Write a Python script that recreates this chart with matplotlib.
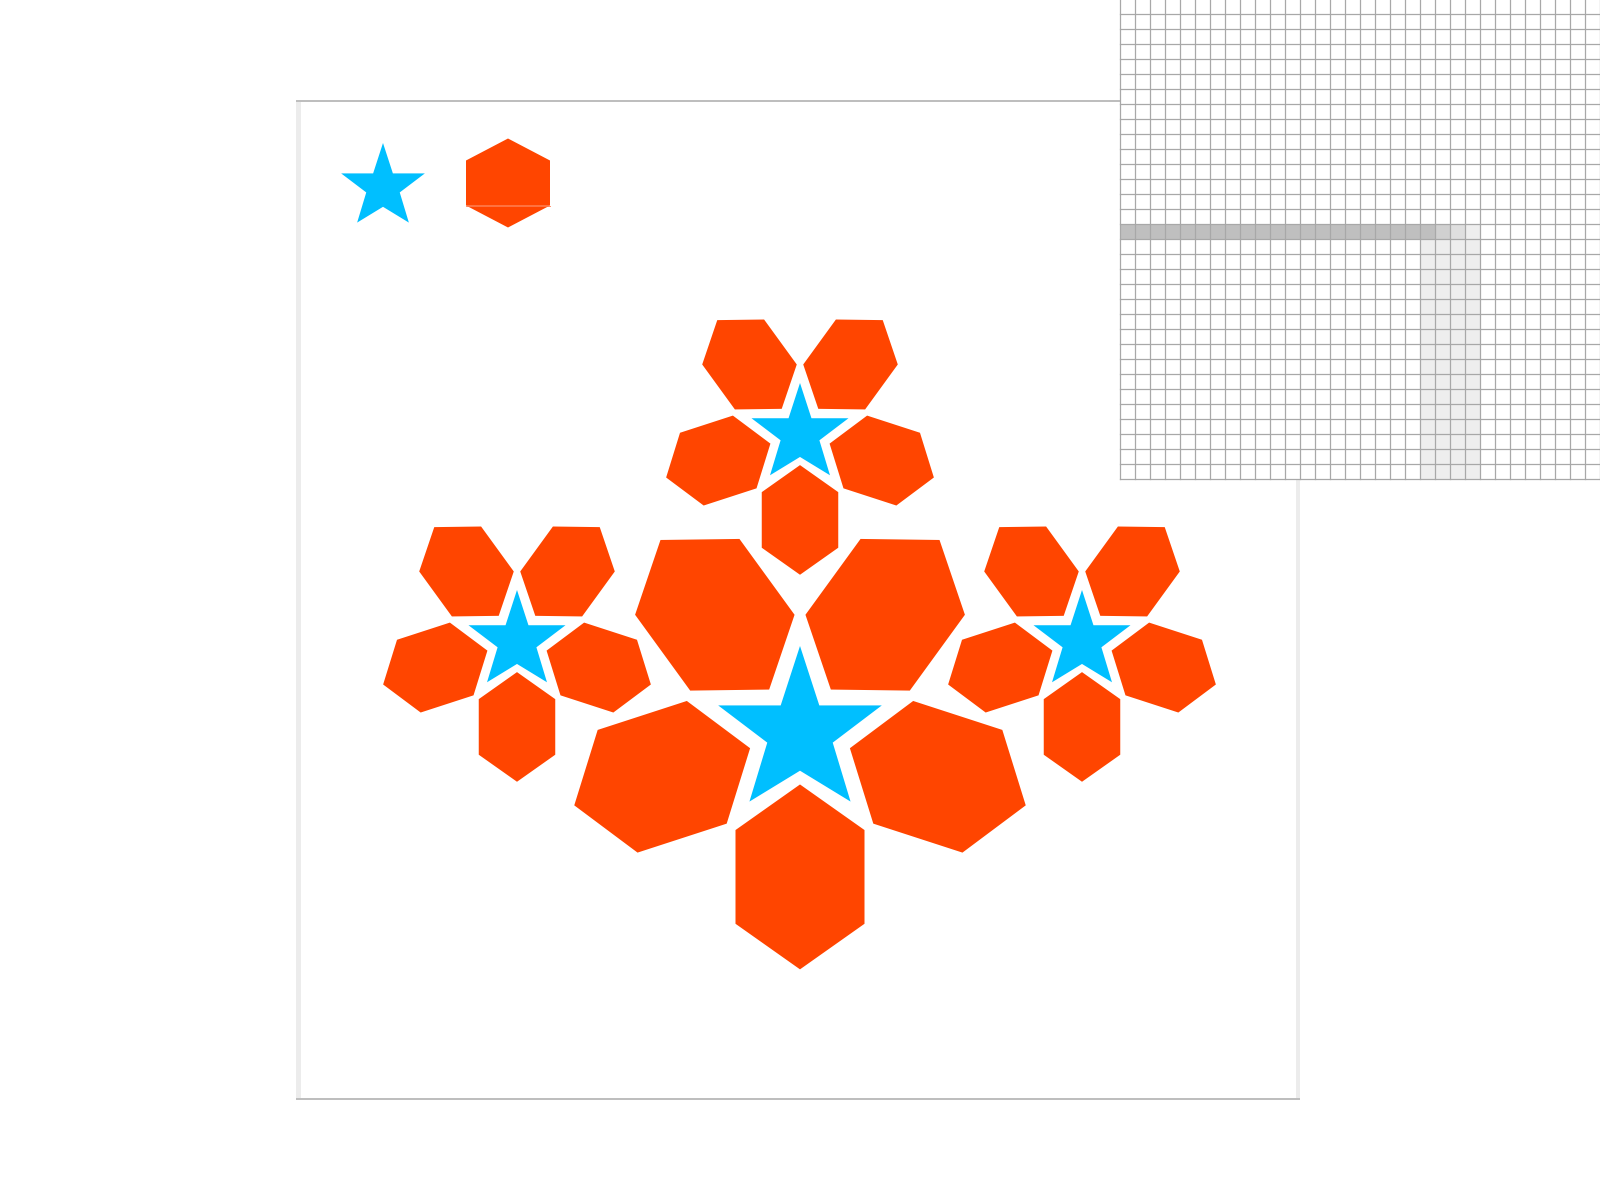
import numpy as np
import matplotlib
matplotlib.use("Agg")
import matplotlib.pyplot as plt
from matplotlib.patches import Polygon, Rectangle

# ---- data (pixel layout of the design) ----
flower_cx = [800, 800, 517, 1082]
flower_cy = [732, 434, 641, 641]
flower_R = [86, 51, 51, 51]
hex_angles = [36, 108, 180, 252, 324]          # petal directions (deg from up)
petal_gap, petal_w, petal_tip, petal_side = 0.61, 1.50, 0.53, 1.09  # relative to R
star_inner = [0.382, 0.40, 0.45, 0.40, 0.382]  # inner vertex radii at 36,108,180,252,324 deg

legend_star = (383, 187, 44)
legend_hex = (508, 183, 84, 22, 45)            # cx, cy, width, tip height, side

STAR_COLOR = "#00BFFF"
HEX_COLOR = "#FF4500"

# grid panel
grid_x0, grid_x1, grid_y0, grid_y1, cell = 1120, 1600, 14, 479, 15
row_cells_dark = 21
row_fade = ["#d0d0d0", "#dfdfdf", "#eeeeee"]
col_cells = (20, 4)

frame = (297, 101, 1300, 1099)

fig = plt.figure(figsize=(16, 12), dpi=100)
ax = fig.add_axes([0, 0, 1, 1])
ax.set_xlim(0, 1600)
ax.set_ylim(1200, 0)
ax.axis("off")


def star_pts(cx, cy, R):
    pts = []
    for i in range(10):
        a = np.deg2rad(i * 36)
        r = R if i % 2 == 0 else R * star_inner[i // 2]
        pts.append((cx + r * np.sin(a), cy - r * np.cos(a)))
    return pts


def petal_pts(cx, cy, R, theta):
    d = petal_gap * R
    W = petal_w * R
    h = petal_tip * R
    s = petal_side * R
    L = 2 * h + s
    loc = [(0, 0), (h, W / 2), (h + s, W / 2), (L, 0), (h + s, -W / 2), (h, -W / 2)]
    t = np.deg2rad(theta)
    u = np.array([np.sin(t), -np.cos(t)])
    v = np.array([np.cos(t), np.sin(t)])
    base = np.array([cx, cy]) + d * u
    return [tuple(base + a * u + b * v) for a, b in loc]


# frame
fx0, fy0, fx1, fy1 = frame
ax.add_patch(Rectangle((fx0, fy0), fx1 - fx0, fy1 - fy0, facecolor="white", edgecolor="none", zorder=1))
ax.add_patch(Rectangle((fx0 - 1, fy0), 5, fy1 - fy0, facecolor="#ececec", edgecolor="none", zorder=2))
ax.add_patch(Rectangle((fx1 - 4, fy0), 4, fy1 - fy0, facecolor="#ececec", edgecolor="none", zorder=2))
ax.plot([fx0 - 1, fx1], [fy0, fy0], color="#bdbdbd", lw=1.4, solid_capstyle="butt", zorder=3)
ax.plot([fx0 - 1, fx1], [fy1, fy1], color="#bdbdbd", lw=1.4, solid_capstyle="butt", zorder=3)

# flowers
for cx, cy, R in zip(flower_cx, flower_cy, flower_R):
    for th in hex_angles:
        ax.add_patch(Polygon(petal_pts(cx, cy, R, th), closed=True, facecolor=HEX_COLOR,
                             edgecolor="none", zorder=4))
    ax.add_patch(Polygon(star_pts(cx, cy, R), closed=True, facecolor=STAR_COLOR,
                         edgecolor="none", zorder=5))

# legend glyphs
sx, sy, sR = legend_star
ax.add_patch(Polygon(star_pts(sx, sy, sR), closed=True, facecolor=STAR_COLOR, edgecolor="none", zorder=5))
hx, hy, hw, ht, hs = legend_hex
top = hy - hs / 2 - ht
up = hy - hs / 2
lo = hy + hs / 2
bot = hy + hs / 2 + ht
ax.add_patch(Polygon([(hx, top), (hx + hw / 2, up), (hx + hw / 2, lo), (hx - hw / 2, lo), (hx - hw / 2, up)],
                     closed=True, facecolor=HEX_COLOR, edgecolor="none", zorder=5))
ax.add_patch(Polygon([(hx - hw / 2, lo), (hx + hw / 2, lo), (hx, bot)],
                     closed=True, facecolor=HEX_COLOR, edgecolor="none", zorder=5))
ax.plot([hx - hw / 2, hx + hw / 2], [lo, lo], color="#ff7a4d", lw=0.6, zorder=6)

# grid panel
ax.add_patch(Rectangle((grid_x0, 0), grid_x1 - grid_x0, grid_y1, facecolor="white", edgecolor="none", zorder=10))
ax.plot([fx1 - 190, grid_x0], [fy0, fy0], color="#bdbdbd", lw=1.4, zorder=3)
ry = grid_y0 + 14 * cell
ax.add_patch(Rectangle((grid_x0, ry), row_cells_dark * cell, cell, facecolor="#bfbfbf", edgecolor="none", zorder=11))
for i, c in enumerate(row_fade):
    ax.add_patch(Rectangle((grid_x0 + (row_cells_dark + i) * cell, ry), cell, cell, facecolor=c,
                           edgecolor="none", zorder=11))
c0, nc = col_cells
ax.add_patch(Rectangle((grid_x0 + c0 * cell, ry + cell), nc * cell, grid_y1 - ry - cell,
                       facecolor="#eeeeee", edgecolor="none", zorder=11))
xs = np.arange(grid_x0, grid_x1 + 1, cell)
ys = np.arange(grid_y0, grid_y1 + 1, cell)
for x in xs:
    ax.plot([x, x], [0, grid_y1], color="#a8a8a8", lw=0.9, zorder=12)
for y in ys:
    ax.plot([grid_x0, grid_x1], [y, y], color="#a8a8a8", lw=0.9, zorder=12)

fig.savefig("out.png", dpi=100, facecolor="white")
